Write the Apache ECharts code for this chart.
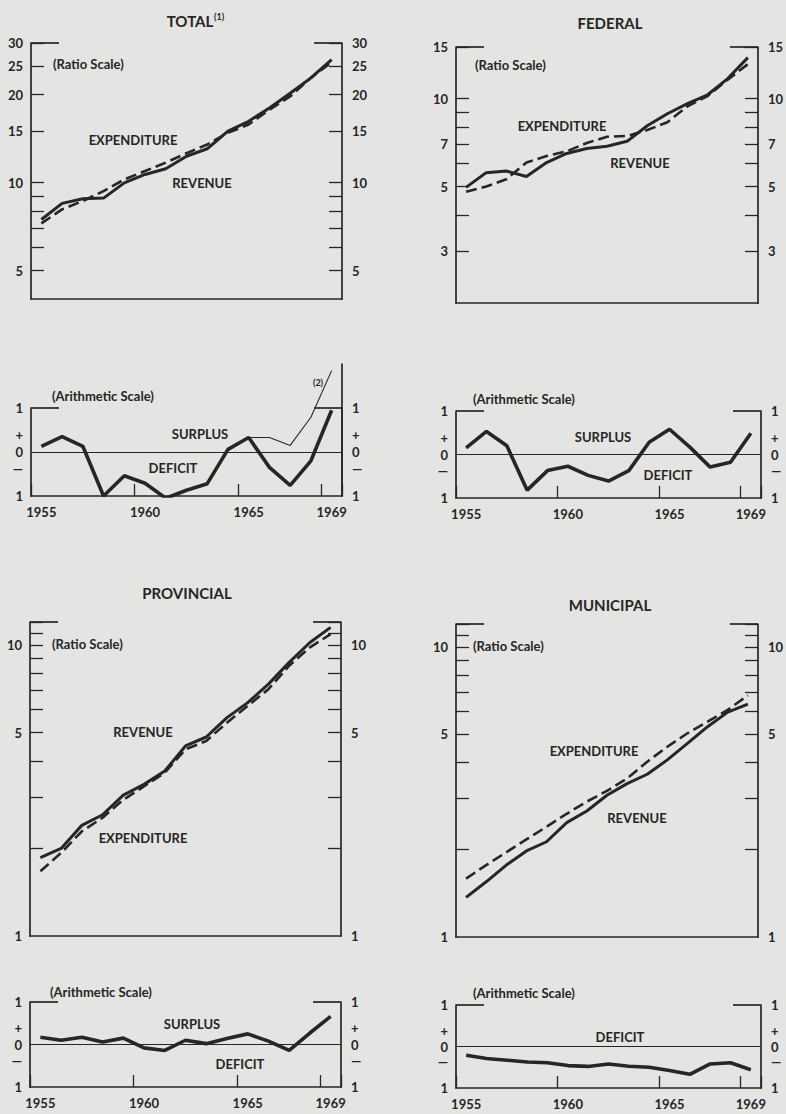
<!DOCTYPE html>
<html><head><meta charset="utf-8">
<script src="https://cdn.jsdelivr.net/npm/echarts@6/dist/echarts.min.js"></script>
<style>html,body{margin:0;padding:0;background:#e4e4e2;}#c{width:786px;height:1114px;}</style>
</head><body><div id="c"></div>
<script>
// ---------- data (billions of dollars) ----------
const years = ['1955','1956','1957','1958','1959','1960','1961','1962','1963','1964','1965','1966','1967','1968','1969'];

const totalRevenue     = [7.48, 8.49, 8.81, 8.85, 9.98, 10.66, 11.15, 12.3, 13.05, 15.0, 16.2, 18.0, 20.2, 22.8, 26.3];
const totalExpenditure = [7.25, 8.1, 8.65, 9.35, 10.25, 10.95, 11.7, 12.6, 13.5, 14.8, 15.8, 17.75, 19.7, 22.8, 25.8];
const totalSurplus     = [0.13, 0.35, 0.13, -1.0, -0.54, -0.71, -1.05, -0.87, -0.72, 0.06, 0.33, -0.35, -0.76, -0.2, 0.95];
const totalSurplusNote2 = [null, null, null, null, null, null, null, null, null, null, 0.33, 0.33, 0.15, 0.79, 1.85];

const federalRevenue     = [4.97, 5.58, 5.65, 5.41, 6.04, 6.49, 6.75, 6.87, 7.14, 8.07, 8.87, 9.6, 10.3, 11.7, 13.8];
const federalExpenditure = [4.8, 5.0, 5.3, 6.04, 6.36, 6.6, 7.05, 7.4, 7.45, 7.8, 8.3, 9.4, 10.2, 11.6, 13.1];
const federalSurplus     = [0.15, 0.53, 0.2, -0.82, -0.37, -0.27, -0.48, -0.61, -0.37, 0.28, 0.58, 0.17, -0.29, -0.18, 0.49];

const provincialRevenue     = [1.86, 2.0, 2.4, 2.61, 3.05, 3.32, 3.69, 4.5, 4.83, 5.63, 6.34, 7.34, 8.72, 10.2, 11.5];
const provincialExpenditure = [1.67, 1.93, 2.29, 2.55, 2.94, 3.27, 3.64, 4.38, 4.68, 5.41, 6.18, 7.05, 8.49, 9.81, 10.9];
const provincialSurplus     = [0.17, 0.1, 0.17, 0.06, 0.15, -0.08, -0.14, 0.1, 0.02, 0.14, 0.25, 0.08, -0.14, 0.27, 0.66];

const municipalRevenue     = [1.37, 1.55, 1.77, 1.98, 2.13, 2.48, 2.72, 3.08, 3.38, 3.64, 4.08, 4.65, 5.31, 5.96, 6.35];
const municipalExpenditure = [1.59, 1.77, 1.96, 2.17, 2.4, 2.66, 2.93, 3.19, 3.52, 4.02, 4.53, 5.04, 5.53, 6.07, 6.81];
const municipalSurplus     = [-0.21, -0.29, -0.33, -0.375, -0.39, -0.46, -0.48, -0.42, -0.475, -0.5, -0.58, -0.67, -0.42, -0.39, -0.56];

// ---------- tick values ----------
const totalTicks = [5, 6, 7, 8, 9, 10, 15, 20, 25, 30];
const totalLabels = [5, 10, 15, 20, 25, 30];
const federalTicks = [3, 4, 5, 6, 7, 8, 9, 10, 15];
const federalLabels = [3, 5, 7, 10, 15];
const subTicks = [2, 3, 4, 5, 6, 7, 8, 9, 10, 11, 12];
const subLabels = [1, 5, 10];
const arithLabels = [-1, -0.38, 0, 0.38, 1];

// ---------- styles ----------
const INK = '#262626';
const FONT = 'Lato, "DejaVu Sans", sans-serif';

const chart = echarts.init(document.getElementById('c'), null, {renderer: 'svg'});
const grids = [], xAxes = [], yAxes = [], series = [];

function arithFmt(v) {
  if (Math.abs(v) < 1e-9) return '0';
  if (v > 0 && v < 0.99) return '+';
  if (v < 0 && v > -0.99) return '\u2014';
  return '1';
}

function addPanel(c) {
  const gi = grids.length;
  grids.push({left: c.left, top: c.top, width: c.width, height: c.height});
  xAxes.push({
    gridIndex: gi, type: 'category', data: years, boundaryGap: true,
    axisLine: {show: true, onZero: false, lineStyle: {color: INK, width: 1.7}},
    axisTick: {show: !!c.arith, inside: true, length: 12, lineStyle: {color: INK, width: 1.3}},
    axisLabel: {show: !!c.arith, interval: (i) => i % 5 === 0 || i === years.length - 1,
      margin: 9, color: INK, fontFamily: FONT, fontWeight: 'bold', fontSize: 13},
    splitLine: {show: false}
  });
  const xi = xAxes.length - 1;
  const yi = yAxes.length;
  const base = {gridIndex: gi, type: c.type, min: c.min, max: c.max, splitLine: {show: false}};
  if (c.type === 'log') base.logBase = 10;
  ['left', 'right'].forEach(pos => {
    yAxes.push(Object.assign({}, base, {
      position: pos,
      axisLine: {show: true, lineStyle: {color: INK, width: 1.7}},
      axisTick: c.ticks ? {show: true, inside: true, length: 13, customValues: c.ticks, lineStyle: {color: INK, width: 1.3}} : {show: false},
      axisLabel: {show: true, customValues: c.labels, formatter: c.fmt, margin: pos === 'left' ? 8 : 10,
        color: INK, fontFamily: FONT, fontWeight: 'bold', fontSize: 13}
    }));
    yAxes.push(Object.assign({}, base, {
      position: pos,
      axisLine: {show: false},
      axisTick: {show: true, inside: true, length: 28, customValues: [c.max * 0.9999], lineStyle: {color: INK, width: 1.7}},
      axisLabel: {show: false}
    }));
  });
  return {xi, yi};
}

function ratioSeries(p, rev, exp) {
  series.push({type: 'line', xAxisIndex: p.xi, yAxisIndex: p.yi, data: rev, symbol: 'none', silent: true,
    lineStyle: {color: INK, width: 3}});
  series.push({type: 'line', xAxisIndex: p.xi, yAxisIndex: p.yi, data: exp, symbol: 'none', silent: true,
    lineStyle: {color: INK, width: 2.6, type: [11, 5]}});
}
function arithSeries(p, sur) {
  series.push({type: 'line', xAxisIndex: p.xi, yAxisIndex: p.yi, data: sur, symbol: 'none', silent: true,
    lineStyle: {color: INK, width: 3.6},
    markLine: {silent: true, symbol: ['none', 'none'], label: {show: false},
      lineStyle: {color: INK, width: 1, type: 'solid'}, data: [{yAxis: 0}]}});
}

const L = {left: 31, width: 311}, R = {left: 456, width: 305};

// Row 1 ratio
const pTotal = addPanel(Object.assign({}, L, {top: 43, height: 256, type: 'log', min: 4, max: 30, ticks: totalTicks, labels: totalLabels}));
ratioSeries(pTotal, totalRevenue, totalExpenditure);
const pFed = addPanel(Object.assign({}, R, {top: 47, height: 256, type: 'log', min: 2, max: 15, ticks: federalTicks, labels: federalLabels}));
ratioSeries(pFed, federalRevenue, federalExpenditure);

// Row 1 arithmetic
const aTotal = addPanel(Object.assign({}, L, {top: 408, height: 88, type: 'value', min: -1, max: 1, labels: arithLabels, fmt: arithFmt, arith: true}));
arithSeries(aTotal, totalSurplus);
const aFed = addPanel(Object.assign({}, R, {top: 411, height: 87, type: 'value', min: -1, max: 1, labels: arithLabels, fmt: arithFmt, arith: true}));
arithSeries(aFed, federalSurplus);

// extension of total surplus panel (note 2 line runs above the scale)
(function () {
  const gi = grids.length;
  grids.push({left: L.left, width: L.width, top: 408 - 44, height: 132});
  xAxes.push({gridIndex: gi, type: 'category', data: years, boundaryGap: true, show: false});
  yAxes.push({gridIndex: gi, type: 'value', min: -1, max: 2, position: 'right',
    axisLine: {show: true, lineStyle: {color: INK, width: 1.7}}, axisTick: {show: false}, axisLabel: {show: false}, splitLine: {show: false}});
  series.push({type: 'line', xAxisIndex: xAxes.length - 1, yAxisIndex: yAxes.length - 1, data: totalSurplusNote2,
    symbol: 'none', silent: true, lineStyle: {color: INK, width: 1.1}});
})();

// Row 2 ratio
const pProv = addPanel(Object.assign({}, L, {left: 30, top: 622, height: 314, type: 'log', min: 1, max: 12, ticks: subTicks, labels: subLabels}));
ratioSeries(pProv, provincialRevenue, provincialExpenditure);
const pMun = addPanel(Object.assign({}, R, {top: 624, height: 313, type: 'log', min: 1, max: 12, ticks: subTicks, labels: subLabels}));
ratioSeries(pMun, municipalRevenue, municipalExpenditure);

// Row 2 arithmetic
const aProv = addPanel(Object.assign({}, L, {left: 30, top: 1002, height: 85, type: 'value', min: -1, max: 1, labels: arithLabels, fmt: arithFmt, arith: true}));
arithSeries(aProv, provincialSurplus);
const aMun = addPanel(Object.assign({}, R, {top: 1005, height: 83, type: 'value', min: -1, max: 1, labels: arithLabels, fmt: arithFmt, arith: true}));
arithSeries(aMun, municipalSurplus);

// ---------- text ----------
function txt(t, x, y, opts) {
  opts = opts || {};
  return {type: 'text', x: x, y: y, silent: true, z: 10,
    style: {text: t, fill: INK, font: 'bold ' + (opts.size || 13) + 'px ' + FONT,
      align: opts.align || 'center', verticalAlign: 'middle'}};
}
const texts = [
  txt('TOTAL', 190, 21, {size: 15}), txt('(1)', 214, 16, {size: 9, align: 'left'}),
  txt('FEDERAL', 610, 23, {size: 15}),
  txt('PROVINCIAL', 187, 593, {size: 15}),
  txt('MUNICIPAL', 610, 605, {size: 15}),
  txt('(Ratio Scale)', 53, 64, {align: 'left'}),
  txt('EXPENDITURE', 133, 140), txt('REVENUE', 202, 183),
  txt('(Ratio Scale)', 475, 65, {align: 'left'}),
  txt('EXPENDITURE', 562, 126), txt('REVENUE', 640, 163),
  txt('(Arithmetic Scale)', 52, 396, {align: 'left'}),
  txt('SURPLUS', 200, 434), txt('DEFICIT', 173, 468), txt('(2)', 318, 382, {size: 9}),
  txt('(Arithmetic Scale)', 473, 399, {align: 'left'}),
  txt('SURPLUS', 603, 437), txt('DEFICIT', 668, 475),
  txt('(Ratio Scale)', 52, 644, {align: 'left'}),
  txt('REVENUE', 143, 732), txt('EXPENDITURE', 143, 838),
  txt('(Ratio Scale)', 473, 646, {align: 'left'}),
  txt('EXPENDITURE', 594, 751), txt('REVENUE', 637, 818),
  txt('(Arithmetic Scale)', 50, 992, {align: 'left'}),
  txt('SURPLUS', 192, 1024), txt('DEFICIT', 240, 1064),
  txt('(Arithmetic Scale)', 473, 993, {align: 'left'}),
  txt('DEFICIT', 620, 1037)
];

chart.setOption({
  backgroundColor: '#e4e4e2',
  animation: false,
  grid: grids, xAxis: xAxes, yAxis: yAxes, series: series,
  graphic: {elements: texts}
});
</script></body></html>
